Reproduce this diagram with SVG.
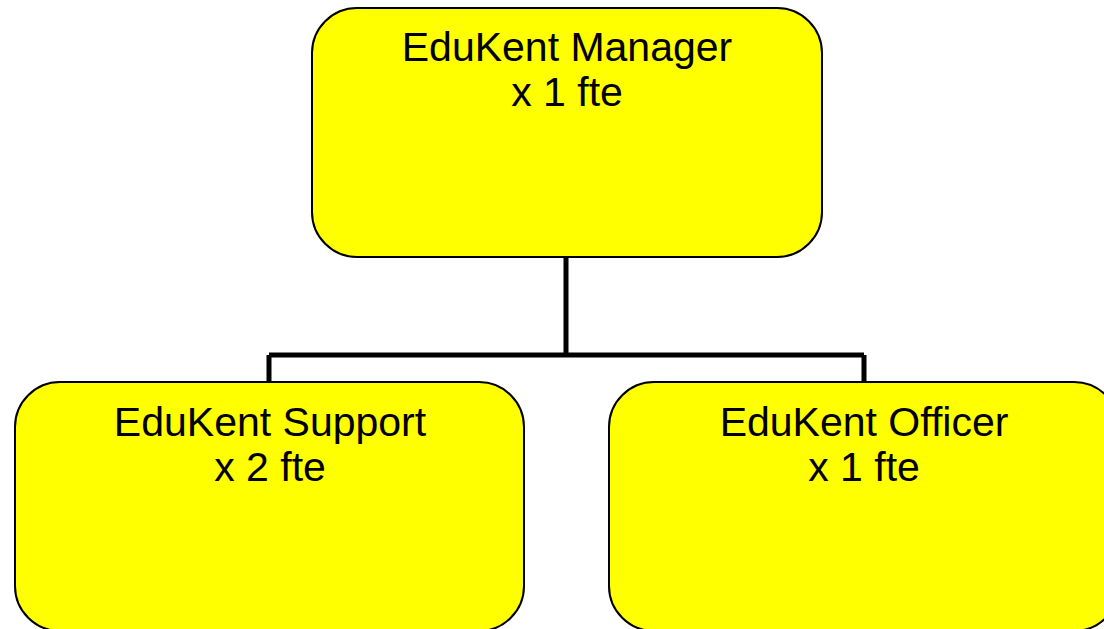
<svg xmlns="http://www.w3.org/2000/svg" width="1104" height="629" viewBox="0 0 1104 629">
<style>
.box{fill:#FFFF00;stroke:#000;stroke-width:2}
.lbl{font-family:"Liberation Sans",Arial,sans-serif;font-size:41px;fill:#000;text-anchor:middle}
.conn{fill:none;stroke:#000;stroke-width:5}
</style>
<rect width="1104" height="629" fill="#fff"/>
<g id="connectors">
<path class="conn" d="M566,257 V355 M269,355 H864 M269,355 V382 M864,355 V382"/>
</g>
<g id="manager">
<rect class="box" x="312" y="8" width="510" height="249" rx="45" ry="45"/>
<text class="lbl" x="567" y="61">EduKent Manager</text>
<text class="lbl" x="567" y="106">x 1 fte</text>
</g>
<g id="support">
<rect class="box" x="15" y="382" width="509" height="249" rx="45" ry="45"/>
<text class="lbl" x="270" y="436">EduKent Support</text>
<text class="lbl" x="270" y="481">x 2 fte</text>
</g>
<g id="officer">
<rect class="box" x="609" y="382" width="510" height="249" rx="45" ry="45"/>
<text class="lbl" x="864" y="436">EduKent Officer</text>
<text class="lbl" x="864" y="481">x 1 fte</text>
</g>
</svg>
